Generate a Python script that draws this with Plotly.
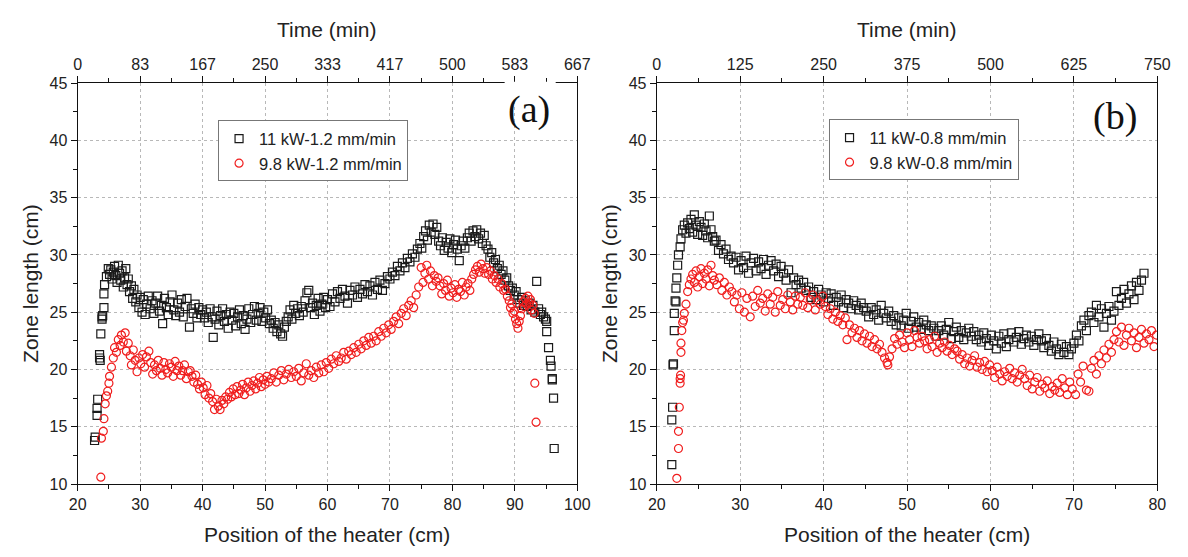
import plotly.graph_objects as go

# ---------------- data: panel (a) ----------------
a_black_x = [22.7, 22.8, 23.1, 23.1, 23.2, 23.5, 23.5, 23.6, 23.7, 23.9, 23.9, 24.0, 24.2, 24.2, 24.3, 24.6, 24.9,
             25.1, 25.3, 25.5, 25.7, 25.9, 26.1, 26.3, 26.5, 26.7, 26.9, 27.1, 27.3, 27.5, 27.7, 27.9,
             28.1, 28.3, 28.6, 28.8, 29.0, 29.3, 29.5, 29.8, 30.0, 30.3, 30.5, 30.8, 31.0, 31.3,
             31.6, 31.9, 32.2, 32.5, 32.8, 33.1, 33.4, 33.6, 33.9, 34.2, 34.5, 34.8, 35.1, 35.4, 35.7, 36.0, 36.3,
             36.6, 36.9, 37.2, 37.5, 37.9, 38.2, 38.5, 38.8, 39.1, 39.4, 39.7,
             40.0, 40.3, 40.6, 40.9, 41.2, 41.5, 41.7, 42.0, 42.3, 42.6, 42.9, 43.2, 43.5, 43.8, 44.1, 44.4, 44.7,
             45.0, 45.3, 45.6, 45.9, 46.2, 46.5, 46.8, 47.1, 47.4, 47.7, 48.0, 48.3, 48.6, 48.9, 49.2, 49.5, 49.8,
             50.1, 50.4, 50.7,
             51.0, 51.3, 51.6, 51.9, 52.2, 52.5, 52.8, 53.1, 53.4,
             53.7, 54.0, 54.3, 54.6, 54.9, 55.2, 55.5, 55.8, 56.1, 56.4, 56.7, 57.0, 57.3, 57.6, 57.9, 58.2, 58.5,
             58.8, 59.1, 59.4, 59.7,
             60.0, 60.4, 60.8, 61.2, 61.6, 62.0, 62.4, 62.8, 63.2, 63.6, 64.0, 64.4, 64.8, 65.2, 65.6, 66.0, 66.4,
             66.8, 67.2, 67.6, 68.0, 68.4, 68.8, 69.2, 69.6,
             70.0, 70.4, 70.8, 71.2, 71.6, 72.0, 72.4, 72.8, 73.2, 73.6, 74.0, 74.4,
             74.8, 75.1, 75.4, 75.7, 76.0, 76.3, 76.6, 76.9, 77.2, 77.5, 77.8,
             78.1, 78.4, 78.7, 79.0, 79.3, 79.6, 79.9, 80.2, 80.5, 80.8, 81.1, 81.4, 81.7, 82.0,
             82.4, 82.7, 83.0, 83.3, 83.6, 83.9, 84.2, 84.5, 84.8, 85.1, 85.4,
             85.7, 86.0, 86.3, 86.6, 86.9, 87.2, 87.5, 87.8, 88.1, 88.4, 88.7,
             89.0, 89.3, 89.6, 89.9, 90.2, 90.5, 90.8, 91.1, 91.4, 91.7, 92.0,
             92.3, 92.6, 92.9, 93.2, 93.5, 93.8, 94.1, 94.3,
             94.6, 94.9, 95.1, 95.1, 95.4, 95.7, 95.8, 96.0, 96.0, 96.2, 96.3]
a_black_y = [13.8, 14.1, 16.0, 16.6, 17.4, 21.0, 21.3, 20.8, 23.1, 24.4, 24.6, 24.7, 25.4, 26.6, 27.4, 28.1, 28.8,
             28.3, 28.7, 27.9, 28.5, 29.0, 28.2, 27.6, 29.1, 28.4, 27.8, 28.6, 27.2, 28.0, 28.8, 27.4,
             27.9, 26.8, 27.3, 26.2, 27.0, 25.9, 26.5, 25.4, 26.3, 25.0, 26.1, 24.8, 25.7, 26.4,
             25.3, 26.0, 24.9, 25.8, 26.4, 25.1, 25.6, 24.0, 26.2, 25.4, 24.8, 25.9, 26.5, 25.2, 24.7, 25.8, 25.0,
             26.1, 24.6, 25.5, 26.2, 23.7, 25.3, 24.9, 25.7, 24.5, 25.4, 24.8,
             25.2, 24.5, 25.0, 24.1, 25.3, 24.6, 22.8, 24.4, 25.1, 23.9, 24.7, 25.3, 24.2, 24.8, 23.6, 25.0, 24.3,
             24.9, 23.8, 24.6, 25.2, 24.0, 24.7, 23.5, 24.4, 25.3, 24.1, 24.8, 25.5, 24.3, 24.9, 25.4, 24.2, 25.0,
             24.5, 25.2, 24.0,
             24.3, 23.6, 24.1, 23.3, 23.9, 23.1, 22.9, 23.7, 24.2,
             24.6, 25.2, 24.4, 25.6, 24.9, 25.3, 24.7, 25.5, 25.0, 26.0, 26.7, 26.9, 25.4, 25.8, 24.8, 25.6, 26.2,
             25.1, 25.7, 26.3, 25.4,
             26.1, 25.5, 26.6, 25.9, 26.8, 26.2, 27.0, 26.4, 25.8, 26.9, 26.5, 27.2, 26.3, 27.0, 26.6, 27.4, 26.8,
             27.3, 26.5, 27.6, 27.0, 27.8, 26.9, 27.5, 28.1,
             27.9, 28.5, 28.2, 29.0, 28.6, 29.3, 28.9, 29.7, 29.4, 30.1, 29.8, 30.5,
             31.0, 30.6, 31.6, 32.1, 31.3, 32.6, 32.0, 32.7, 31.8, 32.4, 31.2,
             30.8, 31.5, 30.4, 31.1, 30.6, 31.4, 30.2, 30.9, 31.3, 30.5, 29.5, 30.8, 31.2, 30.6,
             31.5, 31.9, 31.2, 32.1, 31.6, 32.2, 31.4, 31.9, 31.0, 31.7, 30.8,
             30.5, 29.8, 30.2, 29.3, 29.6, 28.8, 29.1, 28.3, 28.6, 27.8, 28.0,
             27.3, 26.9, 27.1, 26.5, 26.8, 26.1, 25.8, 26.3, 25.6, 26.0, 25.5,
             25.8, 25.2, 25.6, 25.0, 27.7, 25.3, 24.8, 25.0,
             24.6, 24.4, 24.2, 23.3, 21.9, 20.8, 20.3, 19.2, 19.1, 17.5, 13.1]

a_red_x = [23.7, 23.8, 24.1, 24.2, 24.4, 24.6, 24.8, 25.0, 25.1, 25.4, 25.7, 25.9, 26.2, 26.5, 26.8, 27.0, 27.3,
           27.6, 27.8, 28.1,
           28.4, 28.6, 28.9, 29.2, 29.5, 29.8, 30.1, 30.4, 30.7, 31.0, 31.4, 31.7,
           32.0, 32.3, 32.6, 32.9, 33.2, 33.5, 33.8, 34.1, 34.4, 34.7, 35.0, 35.3, 35.6, 35.9, 36.2, 36.5, 36.8,
           37.1, 37.4, 37.7, 38.0, 38.3, 38.6, 38.9, 39.2, 39.5, 39.8,
           40.1, 40.4, 40.7, 41.0, 41.3, 41.6, 41.9, 42.2, 42.5, 42.8, 43.1, 43.4, 43.7,
           44.0, 44.3, 44.6, 44.9, 45.2, 45.5, 45.8, 46.1, 46.4, 46.7, 47.0, 47.3, 47.6, 47.9, 48.2, 48.5, 48.8,
           49.1, 49.4, 49.7, 50.0, 50.3, 50.6,
           51.0, 51.4, 51.8, 52.2, 52.6, 53.0, 53.4, 53.8, 54.2, 54.6, 55.0, 55.4, 55.8, 56.2, 56.6, 57.0, 57.4,
           57.8, 58.2, 58.6, 59.0, 59.4,
           59.8, 60.2, 60.6, 61.0, 61.4, 61.8, 62.2, 62.6, 63.0, 63.4, 63.8, 64.2, 64.6, 65.0, 65.4, 65.8, 66.2,
           66.6, 67.0,
           67.4, 67.8, 68.2, 68.6, 69.0, 69.4, 69.8, 70.2, 70.6, 71.0, 71.4, 71.8, 72.2, 72.6, 73.0, 73.4, 73.8,
           74.2, 74.6,
           75.0, 75.3, 75.6, 75.9, 76.2, 76.5, 76.8, 77.1, 77.4, 77.7,
           78.0, 78.3, 78.6, 78.9, 79.2, 79.5, 79.8, 80.1, 80.4, 80.7, 81.0, 81.3, 81.6, 81.9, 82.2, 82.5, 82.8,
           83.1,
           83.4, 83.7, 84.0, 84.3, 84.6, 84.9, 85.2, 85.5,
           85.8, 86.1, 86.4, 86.7, 87.0, 87.3, 87.6, 87.9, 88.2, 88.5, 88.8,
           89.1, 89.3, 89.5, 89.7, 89.9, 90.1, 90.3, 90.5, 90.7, 90.9,
           91.1, 91.3, 91.5, 91.7, 91.9, 92.1, 92.3, 92.5, 92.7, 92.9, 93.1, 93.2, 93.4]
a_red_y = [10.6, 14.0, 14.6, 15.7, 17.0, 17.7, 18.1, 18.8, 19.4, 20.2, 21.0, 21.9, 21.5, 22.6, 22.1, 23.0, 22.4,
           23.2, 21.6, 22.3,
           21.2, 20.4, 21.7, 20.8, 19.8, 21.0, 20.5, 21.3, 20.2, 21.1, 21.6, 20.6,
           19.6, 20.4, 19.9, 20.8, 20.1, 19.5, 20.6, 20.0, 19.7, 20.5, 20.2, 19.4, 20.7, 19.9, 20.3, 19.5, 19.9,
           20.4, 19.2, 19.8, 19.9, 19.4, 18.9, 19.5, 18.7, 18.3, 18.9,
           18.4, 17.8, 18.6, 17.5, 17.9, 17.2, 16.5, 17.4, 16.8, 16.5, 17.3, 17.0, 17.6,
           17.4, 18.0, 17.6, 18.3, 17.8, 18.5, 17.9, 18.2, 18.7, 17.8, 18.4, 18.9, 18.1, 18.6, 19.0, 18.3, 18.8,
           19.3, 18.5, 19.1, 18.7, 19.4, 18.9,
           19.2, 19.7, 18.9, 19.5, 19.9, 19.1, 19.6, 20.0, 19.3, 19.8, 19.4, 20.1, 19.0, 19.7, 20.5, 19.5, 19.9,
           19.3, 20.2, 19.7, 20.4, 19.8,
           20.6, 20.1, 20.9, 20.5, 21.2, 20.7, 21.0, 21.5, 20.9, 21.6, 21.3, 21.9, 21.5, 22.2, 21.8, 22.5, 22.1,
           22.8, 22.3,
           22.9, 22.5, 23.3, 22.9, 23.6, 23.2, 23.9, 23.5, 24.2, 24.6, 24.0, 24.9, 25.3, 24.7, 25.6, 26.0, 25.4,
           26.5, 27.2,
           28.9, 27.6, 28.4, 29.1, 27.9, 28.6, 27.3, 28.2, 27.7, 28.0,
           27.3, 26.6, 27.5, 26.9, 27.8, 26.4, 27.1, 26.7, 27.4, 26.3, 27.0, 26.8, 27.6, 26.5, 27.2, 27.5, 26.9,
           27.9,
           28.3, 28.7, 29.0, 28.5, 29.2, 28.8, 28.4, 28.9,
           28.3, 28.6, 27.9, 28.2, 27.6, 27.9, 27.2, 27.5, 26.9, 27.0, 26.4,
           26.0, 25.4, 25.7, 24.9, 25.1, 24.4, 24.0, 23.6, 24.2, 24.7,
           25.3, 25.9, 25.5, 26.2, 25.7, 26.4, 25.8, 26.1, 25.2, 25.6, 24.9, 18.8, 15.4]

# ---------------- data: panel (b) ----------------
b_black_x = [21.8, 21.8, 21.9, 21.95, 22.0, 22.1, 22.1, 22.2, 22.3, 22.3, 22.4, 22.5, 22.6, 22.8, 22.9, 23.1,
             23.3, 23.5, 23.7, 23.9, 24.1, 24.3, 24.5, 24.7, 24.9, 25.1, 25.3, 25.5, 25.7, 25.9, 26.1, 26.3, 26.5,
             26.7, 26.9,
             27.1, 27.4, 27.7, 28.0, 28.3, 28.6, 28.9, 29.2,
             29.5, 29.8, 30.1, 30.4, 30.7, 31.0, 31.3, 31.6, 31.9, 32.2, 32.5, 32.8, 33.1, 33.4, 33.7,
             34.0, 34.3, 34.6, 34.9, 35.2, 35.5, 35.8,
             36.1, 36.4, 36.7, 37.0, 37.3, 37.6, 37.9,
             38.2, 38.5, 38.8, 39.1, 39.4, 39.7, 40.0, 40.3, 40.6, 40.9,
             41.2, 41.5, 41.8, 42.1, 42.4, 42.7, 43.0, 43.3, 43.6, 43.9, 44.2, 44.5, 44.8,
             45.1, 45.4, 45.7, 46.0, 46.3, 46.6, 46.9, 47.2, 47.5, 47.8, 48.1, 48.4, 48.7,
             49.0, 49.3, 49.6, 49.9, 50.2, 50.5, 50.8, 51.1, 51.4, 51.7, 52.0, 52.3, 52.6, 52.9,
             53.2, 53.5, 53.8, 54.1, 54.4, 54.7, 55.0, 55.3, 55.6, 55.9, 56.2, 56.5, 56.8, 57.1, 57.4, 57.7,
             58.0, 58.3, 58.6, 58.9, 59.2, 59.5, 59.8, 60.1, 60.4, 60.7, 61.0, 61.3, 61.6, 61.9, 62.2, 62.5, 62.8,
             63.1, 63.4, 63.7, 64.0, 64.3, 64.6, 64.9, 65.2, 65.5, 65.8,
             66.1, 66.4, 66.7, 67.0, 67.3, 67.6, 67.9, 68.2, 68.5, 68.8, 69.1, 69.4, 69.7, 70.0,
             70.3, 70.6, 70.9, 71.2, 71.5, 71.8,
             72.1, 72.4, 72.7, 73.0, 73.3, 73.6, 73.9, 74.2, 74.5, 74.8,
             75.1, 75.4, 75.7, 76.0, 76.3, 76.6, 76.9, 77.2, 77.5, 77.8, 78.1, 78.4]
b_black_y = [11.7, 15.6, 16.7, 20.4, 20.5, 23.4, 24.9, 26.0, 25.9, 27.1, 28.0, 29.1, 30.0, 30.7, 31.4, 32.2,
             32.6, 31.9, 32.8, 32.3, 33.1, 32.0, 33.5, 32.6, 31.8, 32.9, 32.4, 31.7, 32.7, 32.1, 31.5, 33.4, 32.2,
             31.6, 31.2,
             31.3, 30.4, 30.9, 30.1, 30.5, 29.6, 29.9, 29.3,
             29.8, 28.7, 29.5, 28.9, 29.9, 28.4, 29.3, 29.7, 28.6, 29.4, 28.8, 29.6, 28.3, 29.1, 29.5,
             28.6, 29.2, 28.1, 29.0, 28.4, 27.8, 28.7,
             26.7, 28.0, 27.4, 27.8, 27.1, 27.6, 26.9,
             27.2, 26.3, 26.8, 26.1, 27.0, 26.5, 25.9, 26.7, 26.2, 26.6,
             25.6, 26.3, 25.9, 26.5, 25.4, 26.1, 25.8, 25.3, 26.0, 25.6, 25.2, 25.8, 25.4,
             25.1, 24.6, 25.4, 24.8, 25.2, 24.3, 25.6, 24.9, 24.5, 25.1, 24.2, 24.7, 23.9,
             24.5, 23.8, 24.3, 24.9, 23.6, 24.2, 24.6, 23.7, 24.1, 23.5, 24.3, 23.9, 23.4, 23.8,
             23.6, 22.9, 23.4, 23.8, 23.0, 23.5, 24.1, 22.7, 23.3, 23.7, 22.8, 23.4, 22.6, 23.2, 23.6, 22.9,
             23.3, 22.6, 23.0, 22.4, 23.2, 22.7, 22.1, 23.0, 22.5, 21.8, 22.9, 22.3, 23.1, 22.0, 22.6, 23.2, 22.4,
             22.8, 23.3, 22.2, 22.7, 23.0, 22.4, 22.9, 22.1, 22.6, 23.1,
             22.5, 21.9, 22.7, 22.1, 21.6, 22.4, 21.8, 21.3, 22.2, 21.5, 22.0, 21.3, 21.8, 22.3,
             23.0, 22.5, 23.8, 24.3, 23.4, 24.7,
             25.0, 24.1, 25.6, 24.6, 25.3, 23.7, 24.9, 25.5, 24.3, 25.1,
             26.8, 25.6, 26.2, 27.0, 25.8, 26.6, 27.3, 26.1, 27.6, 26.9, 27.8, 28.4]

b_red_x = [22.4, 22.6, 22.6, 22.7, 22.8, 22.8, 22.85, 22.9, 22.9, 23.0, 23.1, 23.2, 23.3, 23.5, 23.7, 23.9,
           24.1, 24.3, 24.5, 24.7, 24.9, 25.1, 25.3, 25.5, 25.7, 25.9, 26.1, 26.3, 26.5, 26.7, 26.9,
           27.2, 27.5, 27.8, 28.1, 28.4, 28.7,
           29.0, 29.3, 29.6, 29.9, 30.2, 30.5, 30.8, 31.2,
           31.5, 31.8, 32.1, 32.4, 32.7, 33.0, 33.3, 33.6, 33.9, 34.2, 34.5, 34.8, 35.1, 35.4, 35.7, 36.0, 36.3,
           36.6, 36.9,
           37.2, 37.5, 37.8, 38.1, 38.4, 38.7, 39.0, 39.3, 39.6, 39.9,
           40.2, 40.5, 40.8, 41.1, 41.4, 41.7, 42.0, 42.3, 42.6, 42.8,
           43.1, 43.4, 43.7, 44.0, 44.3, 44.6, 44.9, 45.2, 45.5, 45.8, 46.1, 46.4, 46.7,
           47.0, 47.3, 47.6, 47.7, 47.9,
           48.2, 48.5, 48.8, 49.1, 49.4, 49.7, 50.0, 50.3, 50.6, 50.9, 51.2, 51.5, 51.8,
           52.1, 52.4, 52.7, 53.0, 53.3, 53.6, 53.9, 54.2, 54.5, 54.8, 55.1, 55.4, 55.7,
           56.0, 56.3, 56.6, 56.9, 57.2, 57.5, 57.8, 58.1, 58.4, 58.7, 59.0, 59.3, 59.6, 59.9,
           60.2, 60.5, 60.8, 61.1, 61.4, 61.7, 62.0, 62.3, 62.6, 62.9, 63.2, 63.5, 63.8,
           64.1, 64.4, 64.7, 65.0, 65.3, 65.6, 65.9, 66.2, 66.5, 66.8, 67.1, 67.4, 67.7,
           68.0, 68.3, 68.6, 68.9, 69.2, 69.5, 69.8, 70.2,
           70.5, 70.8, 71.1, 71.5, 71.8,
           72.1, 72.4, 72.7, 73.0, 73.3, 73.6, 73.9, 74.2, 74.5, 74.8,
           75.1, 75.4, 75.7, 76.0, 76.3, 76.6, 76.9, 77.2, 77.5, 77.8, 78.1, 78.4, 78.7, 79.0, 79.3, 79.6, 79.9]
b_red_y = [10.5, 13.1, 14.6, 16.7, 18.8, 19.2, 19.5, 22.3, 21.5, 23.4, 24.1, 24.3, 24.9, 25.7, 26.8, 27.4,
           27.9, 28.3, 27.6, 28.6, 27.2, 28.1, 28.8, 27.5, 28.4, 27.9, 28.7, 27.3, 29.1, 28.2, 27.8,
           27.4, 28.0, 26.9, 27.6, 26.5, 27.2,
           26.8, 25.9, 26.5, 25.3, 26.7, 25.0, 26.2, 24.6,
           26.4, 25.5, 26.9, 25.8, 26.2, 25.1, 26.6, 25.7, 26.3, 25.0, 26.8, 25.6, 26.1, 25.3, 26.5, 25.9, 25.2,
           26.4, 25.7,
           26.3, 25.6, 26.7, 25.4, 26.1, 26.5, 25.2, 26.0, 25.7, 26.4,
           25.5, 24.8, 25.3, 24.4, 25.0, 24.2, 24.7, 23.9, 24.5, 22.6,
           23.9, 23.2, 23.6, 22.8, 23.4, 22.5, 23.1, 22.3, 22.9, 22.0, 22.6, 21.8, 22.2,
           21.5, 21.0, 20.6, 20.4, 21.1,
           21.8, 22.7, 22.2, 23.0, 22.4, 21.9, 23.2, 22.6, 22.0, 23.4, 22.8, 22.3, 22.9,
           22.5, 21.8, 22.6, 22.0, 22.9, 21.5, 22.3, 21.9, 22.4, 21.6, 22.1, 21.3, 21.8,
           21.6, 20.9, 21.3, 20.5, 21.0, 20.3, 20.8, 21.2, 20.2, 20.6, 20.0, 20.7, 19.8, 20.4,
           19.9, 19.3, 20.2, 19.6, 19.0, 19.8, 19.4, 20.1, 19.2, 19.7, 18.9, 19.5, 20.0,
           19.2, 18.6, 19.5, 18.3, 18.9, 19.3, 18.1, 18.7, 18.4, 19.0, 17.9, 18.5, 18.2,
           18.8, 18.0, 19.2, 18.4, 17.8, 18.9, 18.3, 17.8,
           19.6, 18.9, 20.3, 18.2, 18.1,
           20.1, 20.8, 19.6, 21.2, 20.5, 21.7, 21.0, 22.2, 21.5, 22.6,
           23.3, 22.4, 23.7, 22.1, 23.0, 23.6, 22.5, 23.2, 21.9, 22.8, 23.5, 22.3, 23.1, 22.6, 23.4, 22.0, 23.0]

# axis tick labels
a_time_vals = [0, 83.333, 166.667, 250, 333.333, 416.667, 500, 583.333, 666.667]
a_time_text = ["0", "83", "167", "250", "333", "417", "500", "583", "667"]
b_time_vals = [0, 125, 250, 375, 500, 625, 750]
b_time_text = ["0", "125", "250", "375", "500", "625", "750"]

names_a = ["11 kW-1.2 mm/min", "9.8 kW-1.2 mm/min"]
names_b = ["11 kW-0.8 mm/min", "9.8 kW-0.8 mm/min"]

BLACK = "#1a1a1a"
RED = "#f01e1e"
FONT = "Liberation Sans, Arial, sans-serif"

W, H = 1188, 557
def px(x):
    return x / W
def py(y):
    return 1 - y / H

xa_dom = [px(70), px(579)]
xb_dom = [px(660), px(1170)]
y_dom = [py(491), py(77.5)]

fig = go.Figure()

sq = dict(symbol="square-open", size=8, color=BLACK, line=dict(width=1.2, color=BLACK))
ci = dict(symbol="circle-open", size=8, color=RED, line=dict(width=1.2, color=RED))

fig.add_trace(go.Scatter(x=a_black_x, y=a_black_y, mode="markers", marker=sq, name=names_a[0],
                         xaxis="x", yaxis="y", legend="legend"))
fig.add_trace(go.Scatter(x=a_red_x, y=a_red_y, mode="markers", marker=ci, name=names_a[1],
                         xaxis="x", yaxis="y", legend="legend"))
fig.add_trace(go.Scatter(x=b_black_x, y=b_black_y, mode="markers", marker=sq, name=names_b[0],
                         xaxis="x3", yaxis="y3", legend="legend2"))
fig.add_trace(go.Scatter(x=b_red_x, y=b_red_y, mode="markers", marker=ci, name=names_b[1],
                         xaxis="x3", yaxis="y3", legend="legend2"))
# empty helper traces so the top (time) axes are drawn
fig.add_trace(go.Scatter(x=[None], y=[None], xaxis="x2", yaxis="y", showlegend=False, hoverinfo="skip"))
fig.add_trace(go.Scatter(x=[None], y=[None], xaxis="x4", yaxis="y3", showlegend=False, hoverinfo="skip"))

tickfont = dict(family=FONT, size=16, color="#222")
grid = dict(showgrid=True, gridcolor="#b8b8b8", griddash="dot", gridwidth=1)
line = dict(showline=True, linecolor="#111", linewidth=1.2)

def bottom_x(domain, rng, anchor):
    return dict(domain=domain, range=rng, anchor=anchor, dtick=10, tick0=20, ticks="outside", ticklen=6,
                tickcolor="#111", tickfont=tickfont, zeroline=False, mirror=False,
                minor=dict(dtick=5, tick0=20, ticks="outside", ticklen=4, tickcolor="#111", showgrid=False),
                **grid, **line)

def top_x(overlay, rng, vals, text, minor_d, anchor):
    return dict(overlaying=overlay, side="top", range=rng, anchor=anchor, tickmode="array", tickvals=vals,
                ticktext=text, ticks="outside", ticklen=6, tickcolor="#111", tickfont=tickfont,
                showgrid=False, zeroline=False,
                minor=dict(dtick=minor_d, tick0=0, ticks="outside", ticklen=4, tickcolor="#111", showgrid=False),
                **line)

def left_y(anchor):
    return dict(domain=y_dom, range=[10, 45], anchor=anchor, dtick=5, tick0=10, ticks="outside", ticklen=6,
                tickcolor="#111", tickfont=tickfont, zeroline=False, mirror=True,
                minor=dict(dtick=2.5, tick0=10, ticks="outside", ticklen=4, tickcolor="#111", showgrid=False),
                **grid, **line)

legend_font = dict(family=FONT, size=16.5, color="#222")
fig.update_layout(
    width=W, height=H,
    margin=dict(l=0, r=0, t=0, b=0, pad=0),
    paper_bgcolor="white", plot_bgcolor="white",
    font=dict(family=FONT, color="#222"),
    xaxis=bottom_x(xa_dom, [20, 100], "y"),
    xaxis2=top_x("x", [0, 666.667], a_time_vals, a_time_text, 41.6667, "y"),
    yaxis=left_y("x"),
    xaxis3=bottom_x(xb_dom, [20, 80], "y3"),
    xaxis4=top_x("x3", [0, 750], b_time_vals, b_time_text, 62.5, "y3"),
    yaxis3=left_y("x3"),
    legend=dict(x=px(213), y=py(116), xanchor="left", yanchor="top", bgcolor="white",
                bordercolor="#777", borderwidth=1, font=legend_font, tracegroupgap=0, itemwidth=30),
    legend2=dict(x=px(835), y=py(115), xanchor="left", yanchor="top", bgcolor="white",
                 bordercolor="#777", borderwidth=1, font=legend_font, tracegroupgap=0, itemwidth=30),
    showlegend=True,
)

title_font = dict(family=FONT, size=21, color="#222")
ann = []
for cx, ylab_x in [((70 + 579) / 2, 22), ((660 + 1170) / 2, 612)]:
    ann.append(dict(text="Time (min)", x=px(cx), y=py(22), xref="paper", yref="paper",
                    showarrow=False, font=title_font, xanchor="center", yanchor="middle"))
    ann.append(dict(text="Position of the heater (cm)", x=px(cx), y=py(543), xref="paper", yref="paper",
                    showarrow=False, font=title_font, xanchor="center", yanchor="middle"))
    ann.append(dict(text="Zone length (cm)", x=px(ylab_x), y=py(284), xref="paper", yref="paper",
                    showarrow=False, font=title_font, textangle=-90, xanchor="center", yanchor="middle"))
serif = "Liberation Serif, Times New Roman, serif"
ann.append(dict(text="(a)", x=px(530), y=py(105), xref="paper", yref="paper", showarrow=False,
                xanchor="center", yanchor="middle", font=dict(family=serif, size=38, color="#111")))
ann.append(dict(text="(b)", x=px(1127), y=py(112), xref="paper", yref="paper", showarrow=False,
                xanchor="center", yanchor="middle", font=dict(family=serif, size=38, color="#111")))
fig.update_layout(annotations=ann)

# white patch behind "(a)" that interrupts the top frame, as in the source figure
fig.add_shape(type="rect", xref="paper", yref="paper", x0=px(505), x1=px(557), y0=py(97), y1=py(76),
              fillcolor="white", line=dict(width=0), layer="above")

fig.write_html("out.html", config={"displayModeBar": False},
               post_script="document.body.style.margin='0';document.body.style.overflow='hidden';")
